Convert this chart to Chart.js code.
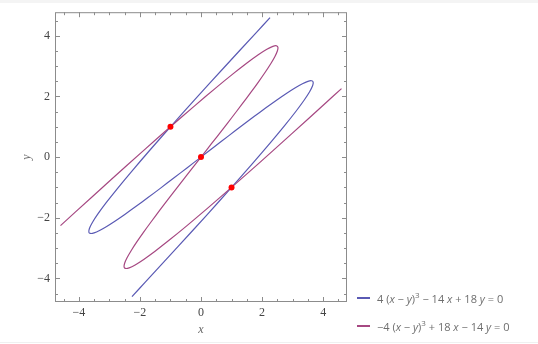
<!DOCTYPE html>
<html>
<head>
<meta charset="utf-8">
<script src="https://cdn.jsdelivr.net/npm/chart.js@4"></script>
<style>
    body { margin: 0; background: #fff; }
    #wrap { position: relative; width: 538px; height: 344px; overflow: hidden; }
    #topband { position: absolute; left: 0; top: 0; width: 538px; height: 3px; background: #f4f4f4; }
    #bottomline { position: absolute; left: 0; top: 342px; width: 538px; height: 1px; background: #f0f0f0; }
    #legend { position: absolute; left: 357px; top: 284px; font-family: "Open Sans", sans-serif; font-size: 11px; color: #6e6e6e; }
    .entry { height: 28px; display: flex; align-items: center; white-space: nowrap; }
    .swatch { display: inline-block; width: 13px; height: 2px; margin-right: 7px; }
    .entry i { font-style: italic; }
    .entry sup { font-size: 8px; vertical-align: 5px; line-height: 0; }
</style>
</head>
<body>
<div id="wrap">
    <div id="topband"></div>
    <canvas id="chart" width="538" height="344"></canvas>
    <div id="legend"></div>
    <div id="bottomline"></div>
</div>
<script>
// ===========================
// DATA
// ===========================

// Curve 1: 4 (x - y)^3 - 14 x + 18 y = 0
const blueX = [2.26, 1.817, 0.748, -0.189, -1.0, -1.691, -2.268, -2.737, -3.104, -3.375, -3.556, -3.653, -3.672, -3.619, -3.5, -3.321, -3.088, -2.807, -2.484, -2.125, -1.736, -1.323, -0.892, -0.449, 0, 0.449, 0.892, 1.323, 1.736, 2.125, 2.484, 2.807, 3.088, 3.321, 3.5, 3.619, 3.672, 3.653, 3.556, 3.375, 3.104, 2.737, 2.268, 1.691, 1.0, 0.189, -0.748, -1.817, -2.26];
const blueY = [4.6, 4.117, 2.948, 1.911, 1.0, 0.209, -0.468, -1.037, -1.504, -1.875, -2.156, -2.353, -2.472, -2.519, -2.5, -2.421, -2.288, -2.107, -1.884, -1.625, -1.336, -1.023, -0.692, -0.349, 0, 0.349, 0.692, 1.023, 1.336, 1.625, 1.884, 2.107, 2.288, 2.421, 2.5, 2.519, 2.472, 2.353, 2.156, 1.875, 1.504, 1.037, 0.468, -0.209, -1.0, -1.911, -2.948, -4.117, -4.6];

// Curve 2: -4 (x - y)^3 + 18 x - 14 y = 0
const redX = [4.6, 4.117, 2.948, 1.911, 1.0, 0.209, -0.468, -1.037, -1.504, -1.875, -2.156, -2.353, -2.472, -2.519, -2.5, -2.421, -2.288, -2.107, -1.884, -1.625, -1.336, -1.023, -0.692, -0.349, 0, 0.349, 0.692, 1.023, 1.336, 1.625, 1.884, 2.107, 2.288, 2.421, 2.5, 2.519, 2.472, 2.353, 2.156, 1.875, 1.504, 1.037, 0.468, -0.209, -1.0, -1.911, -2.948, -4.117, -4.6];
const redY = [2.26, 1.817, 0.748, -0.189, -1.0, -1.691, -2.268, -2.737, -3.104, -3.375, -3.556, -3.653, -3.672, -3.619, -3.5, -3.321, -3.088, -2.807, -2.484, -2.125, -1.736, -1.323, -0.892, -0.449, 0, 0.449, 0.892, 1.323, 1.736, 2.125, 2.484, 2.807, 3.088, 3.321, 3.5, 3.619, 3.672, 3.653, 3.556, 3.375, 3.104, 2.737, 2.268, 1.691, 1.0, 0.189, -0.748, -1.817, -2.26];

// Intersection points
const crossX = [-1, 0, 1];
const crossY = [1, 0, -1];

// Axes
const axisMin = -4.78;
const axisMax = 4.78;
const majorTicks = [-4, -2, 0, 2, 4];
const minorTicks = [-4.5, -3.5, -3, -2.5, -1.5, -1, -0.5, 0.5, 1, 1.5, 2.5, 3, 3.5, 4.5];

const legendLabels = [
    '4 (<i>x</i> \u2212 <i>y</i>)<sup>3</sup> \u2212 14 <i>x</i> + 18 <i>y</i> = 0',
    '\u22124 (<i>x</i> \u2212 <i>y</i>)<sup>3</sup> + 18 <i>x</i> \u2212 14 <i>y</i> = 0'
];
const curveColors = ['#5a5ab4', '#a64882'];

// ===========================
// HELPERS
// ===========================
function toPoints(xs, ys) {
    return xs.map((x, i) => ({ x: x, y: ys[i] }));
}

function fmtTick(v) {
    return v < 0 ? '\u2212' + Math.abs(v) : String(v);
}

// Frame with inward major/minor ticks on all four sides, plus axis titles
const framePlugin = {
    id: 'frame',
    beforeDatasetsDraw(chart) {
        const { ctx, chartArea: a, scales } = chart;
        const sx = scales.x, sy = scales.y;
        ctx.save();
        ctx.strokeStyle = '#8c8c8c';
        ctx.lineWidth = 1;
        ctx.strokeRect(a.left + 0.5, a.top + 0.5, a.right - a.left - 1, a.bottom - a.top - 1);

        const drawTicks = (vals, len) => {
            vals.forEach(v => {
                const px = Math.round(sx.getPixelForValue(v)) + 0.5;
                ctx.beginPath();
                ctx.moveTo(px, a.bottom); ctx.lineTo(px, a.bottom - len);
                ctx.moveTo(px, a.top); ctx.lineTo(px, a.top + len);
                ctx.stroke();
                const py = Math.round(sy.getPixelForValue(v)) + 0.5;
                ctx.beginPath();
                ctx.moveTo(a.left, py); ctx.lineTo(a.left + len, py);
                ctx.moveTo(a.right, py); ctx.lineTo(a.right - len, py);
                ctx.stroke();
            });
        };
        drawTicks(majorTicks, 5);
        drawTicks(minorTicks, 3);

        // axis titles
        ctx.fillStyle = '#666';
        ctx.font = 'italic 12px "Liberation Serif", serif';
        ctx.textAlign = 'center';
        ctx.textBaseline = 'middle';
        ctx.fillText('x', (a.left + a.right) / 2, a.bottom + 28);
        ctx.translate(a.left - 28, (a.top + a.bottom) / 2);
        ctx.rotate(-Math.PI / 2);
        ctx.fillText('y', 0, 0);
        ctx.restore();
    }
};

const tickFont = { family: '"Liberation Serif", serif', size: 12 };

new Chart(document.getElementById('chart').getContext('2d'), {
    type: 'scatter',
    data: {
        datasets: [
            {
                data: toPoints(crossX, crossY),
                showLine: false,
                pointRadius: 3,
                pointBackgroundColor: '#ff0000',
                pointBorderWidth: 0,
                order: 0
            },
            {
                data: toPoints(blueX, blueY),
                showLine: true,
                borderColor: curveColors[0],
                borderWidth: 1.2,
                pointRadius: 0,
                tension: 0.3,
                order: 2
            },
            {
                data: toPoints(redX, redY),
                showLine: true,
                borderColor: curveColors[1],
                borderWidth: 1.2,
                pointRadius: 0,
                tension: 0.3,
                order: 1
            }
        ]
    },
    options: {
        responsive: false,
        animation: false,
        layout: { padding: { left: 0, right: 191, top: 10, bottom: 0 } },
        plugins: { legend: { display: false }, tooltip: { enabled: false } },
        scales: {
            x: {
                type: 'linear',
                min: axisMin,
                max: axisMax,
                grid: { display: false, drawTicks: false },
                border: { display: false },
                afterBuildTicks: s => { s.ticks = majorTicks.map(v => ({ value: v })); },
                afterFit: s => { s.height = 42; },
                ticks: { font: tickFont, color: '#444', padding: 4, maxRotation: 0, callback: v => fmtTick(v) }
            },
            y: {
                type: 'linear',
                min: axisMin,
                max: axisMax,
                grid: { display: false, drawTicks: false },
                border: { display: false },
                afterBuildTicks: s => { s.ticks = majorTicks.map(v => ({ value: v })); },
                afterFit: s => { s.width = 55; },
                ticks: { font: tickFont, color: '#444', padding: 5, callback: v => fmtTick(v) }
            }
        }
    },
    plugins: [framePlugin]
});

// Legend
const legendEl = document.getElementById('legend');
legendEl.innerHTML = legendLabels.map((label, i) =>
    `<div class="entry"><span class="swatch" style="background:${curveColors[i]}"></span><span>${label}</span></div>`
).join('');
</script>
</body>
</html>
